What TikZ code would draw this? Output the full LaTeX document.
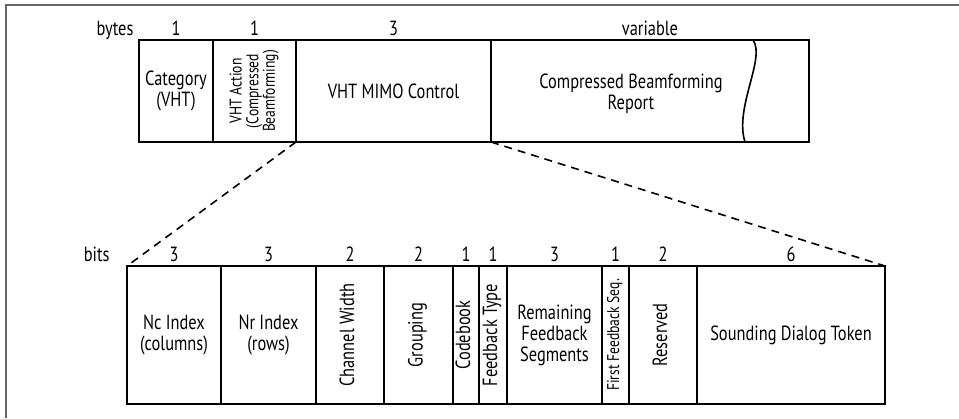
\documentclass[tikz,border=0pt]{standalone}
\usepackage{graphicx}
\usepackage{fontspec}
\setmainfont{PT Sans}[FakeStretch=0.8]
\usetikzlibrary{positioning}

% rotated, centred text for narrow fields
\newcommand{\vtext}[1]{\rotatebox{90}{\begin{tabular}{@{}c@{}}#1\end{tabular}}}

\begin{document}
\begin{tikzpicture}[x=1pt, y=-1pt,
    field/.style={draw, line width=1.6pt, anchor=north west, inner sep=0pt, outer sep=0pt,
        align=center, font=\fontsize{20.5}{21}\selectfont},
    num/.style={anchor=base, yshift=4.5pt, font=\fontsize{20.5}{21}\selectfont},
    unit/.style={anchor=base east, yshift=4.5pt, font=\fontsize{20.5}{21}\selectfont},
    small/.style={font=\fontsize{17}{17}\selectfont},
    zoomline/.style={line width=1.6pt, dash pattern=on 8pt off 6pt}]
    \useasboundingbox (0,0) rectangle (959,418);

    % Page frame
    \draw[gray!80!black, line width=1.5pt] (959,5) -- (6,5) -- (6,418);

    % Frame fields (bytes)
    \node[field, minimum width=74pt, minimum height=102pt] (cat) at (139,40) {Category\\(VHT)};
    \node[field, small, minimum width=83pt, minimum height=102pt] (act) at (cat.north east)
        {\renewcommand{\arraystretch}{0.88}\vtext{VHT Action\\(Compressed\\Beamforming)}};
    \node[field, minimum width=195pt, minimum height=102pt] (mimo) at (act.north east) {VHT MIMO Control};
    \node[field, minimum width=318pt, minimum height=102pt] (rep) at (mimo.north east) {};
    \node[align=center, font=\fontsize{20.5}{21}\selectfont] (reptext) at ([xshift=-19pt, yshift=-3pt]rep.center)
        {Compressed Beamforming\\Report};
    \draw[line width=1.6pt] (753,40) .. controls (766,58) and (734,108) .. (745,142);

    \node[unit, xshift=-2pt] at (cat.north west) {bytes};
    \node[num] at (cat.north) {1};
    \node[num] at (act.north) {1};
    \node[num] at (mimo.north) {3};
    \node[num] at (rep.north) {variable};

    % MIMO Control subfields (bits)
    \node[field, minimum width=94pt, minimum height=138pt] (nc) at (127,266) {Nc Index\\(columns)};
    \node[field, minimum width=95pt, minimum height=138pt] (nr) at (nc.north east) {Nr Index\\(rows)};
    \node[field, minimum width=68pt, minimum height=138pt] (cw) at (nr.north east) {\vtext{Channel Width}};
    \node[field, minimum width=69pt, minimum height=138pt] (grp) at (cw.north east) {\vtext{Grouping}};
    \node[field, minimum width=26pt, minimum height=138pt] (cb) at (grp.north east) {\vtext{Codebook}};
    \node[field, minimum width=28pt, minimum height=138pt] (ft) at (cb.north east) {\vtext{Feedback Type}};
    \node[field, minimum width=95pt, minimum height=138pt] (rfs) at (ft.north east) {Remaining\\Feedback\\Segments};
    \node[field, small, minimum width=27pt, minimum height=138pt] (ffs) at (rfs.north east) {\vtext{First Feedback Seq.}};
    \node[field, minimum width=68pt, minimum height=138pt] (res) at (ffs.north east) {\vtext{Reserved}};
    \node[field, minimum width=188pt, minimum height=138pt] (sdt) at (res.north east) {Sounding Dialog Token};

    \node[unit, xshift=-14pt] at (nc.north west) {bits};
    \node[num] at (nc.north) {3};
    \node[num] at (nr.north) {3};
    \node[num] at (cw.north) {2};
    \node[num] at (grp.north) {2};
    \node[num] at (cb.north) {1};
    \node[num] at (ft.north) {1};
    \node[num] at (rfs.north) {3};
    \node[num] at (ffs.north) {1};
    \node[num] at (res.north) {2};
    \node[num] at (sdt.north) {6};

    % Expansion of VHT MIMO Control
    \draw[zoomline] (mimo.south west) -- (nc.north west);
    \draw[zoomline] (mimo.south east) -- (sdt.north east);
\end{tikzpicture}
\end{document}
